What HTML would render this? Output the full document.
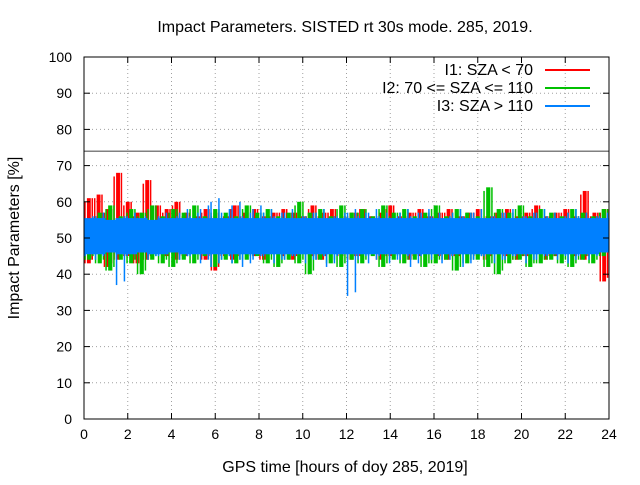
<!DOCTYPE html>
<html><head><meta charset="utf-8"><style>
body{margin:0;background:#fff}
svg text{font-family:"Liberation Sans",sans-serif;font-size:14px;fill:#000}
svg text.big{font-size:16px}
</style></head><body>
<svg id="c" width="640" height="480" viewBox="0 0 640 480"></svg>
<script>
const xTicks=[0,2,4,6,8,10,12,14,16,18,20,22,24];
const yTicks=[0,10,20,30,40,50,60,70,80,90,100];
const refLine=74;
const redVals=[61,43,62,46,58,42,68,44,60,45,57,43,66,44,59,46,58,45,60,44,57,45,56,46,58,44,57,41,56,45,59,44,57,46,58,45,56,44,57,46,58,45,57,44,56,46,59,45,57,44,58,46,56,45,57,44,58,45,56,46,57,44,59,45,56,46,57,44,58,45,56,46,57,45,58,44,56,45,57,46,58,45,56,44,57,46,58,45,56,44,57,45,59,46,56,44,57,45,58,46,56,45,63,44,57,46,58,38];
const greenVals=[55,44,57,43,59,41,56,44,58,43,57,40,59,44,56,43,58,42,57,44,59,43,56,45,58,42,57,44,56,43,59,44,57,45,58,43,56,42,57,44,60,43,57,40,58,44,56,43,59,42,57,44,58,43,56,45,59,42,57,44,58,43,56,44,57,42,59,43,56,44,58,41,57,43,56,44,64,42,58,40,57,43,59,44,56,42,58,43,57,44,56,43,58,42,57,44,56,43,58,45];
const blueVals=[56,45,57,44,55,46,56,37,57,45,56,46,55,44,57,45,56,46,58,44,57,45,59,43,61,42,58,44,60,43,57,42,59,44,58,45,57,43,58,44,56,45,57,43,58,44,56,42,57,45,58,34,57,44,58,43,57,45,56,43,58,44,57,42,58,45,57,44,56,43,58,45,57,42,58,44,56,45,57,43,58,44,56,45,57,43,58,44,57,45,56,44,58,43,57,45,56,44,57,46];
const legendLabels=["I1: SZA < 70","I2: 70 <= SZA <= 110","I3: SZA > 110"];
const colors=["#ff0000","#00c000","#0080ff"];
const NS="http://www.w3.org/2000/svg";
const svg=document.getElementById('c');
const L=84,R=609,T=57,B=419;
const X=v=>L+(v-0)/24*(R-L);
const Y=v=>B-(v-0)/100*(B-T);
function mk(t,a,txt){const e=document.createElementNS(NS,t);for(const k in a)e.setAttribute(k,a[k]);if(txt!=null)e.textContent=txt;svg.appendChild(e);return e;}
xTicks.forEach(v=>{if(v>0&&v<24){const g=mk('line',{x1:X(v),x2:X(v),y1:T,y2:B,stroke:'#a0a0a0','stroke-dasharray':'1,3'});

}});
yTicks.forEach(v=>{if(v>0&&v<100){const g=mk('line',{x1:L,x2:R,y1:Y(v),y2:Y(v),stroke:'#a0a0a0','stroke-dasharray':'1,3'});

}});
[redVals,greenVals,blueVals].forEach((arr,i)=>{
 const n=Math.floor(arr.length/2);
 const g=mk('g',{fill:colors[i],stroke:colors[i]});
 
 
 for(let k=0;k<n;k++){
  const hi=Math.max(arr[2*k],arr[2*k+1]),lo=Math.min(arr[2*k],arr[2*k+1]);
  const x0=X(k/n*24),x1=X((k+1)/n*24),bw=x1-x0;
  let rx,rw,rh,rl;
  if(i===2){rx=x0;rw=bw+0.5;rh=Math.min(hi,55.5);rl=Math.max(lo,45.5);}
  else{rx=x0+bw*0.3;rw=bw*0.4;rh=hi;rl=lo;}
  const r=document.createElementNS(NS,'rect');
  r.setAttribute('x',rx);r.setAttribute('width',rw);
  r.setAttribute('y',Y(rh));r.setAttribute('height',Y(rl)-Y(rh));
  r.setAttribute('stroke','none');
  
  
  g.appendChild(r);
  [0.1,0.85].forEach(f=>{
   const l=document.createElementNS(NS,'line');
   const xm=x0+bw*f;
   l.setAttribute('x1',xm);l.setAttribute('x2',xm);
   l.setAttribute('y1',Y(f<0.5?hi-1:hi));l.setAttribute('y2',Y(f<0.5?lo:lo+1));
   l.setAttribute('stroke-width',1.5);
   
   
   g.appendChild(l);
  });
 }
});
const rl=mk('line',{x1:L,x2:R,y1:Y(refLine),y2:Y(refLine),stroke:'#000','stroke-width':0.8});


const fr=mk('rect',{x:L,y:T,width:R-L,height:B-T,fill:'none',stroke:'#000'});


xTicks.forEach(v=>{
 mk('line',{x1:X(v),x2:X(v),y1:B,y2:B-6,stroke:'#000'});
 mk('line',{x1:X(v),x2:X(v),y1:T,y2:T+6,stroke:'#000'});
 const t=mk('text',{x:X(v),y:B+20,'text-anchor':'middle'},String(v));
 
 
});
yTicks.forEach(v=>{
 mk('line',{x1:L,x2:L+6,y1:Y(v),y2:Y(v),stroke:'#000'});
 mk('line',{x1:R,x2:R-6,y1:Y(v),y2:Y(v),stroke:'#000'});
 const t=mk('text',{x:L-12,y:Y(v)+5,'text-anchor':'end'},String(v));
 
 
});
legendLabels.forEach((s,i)=>{
 const y=70+i*18;
 const t=mk('text',{x:533,y:y+5,'text-anchor':'end',class:'big'},s);
 
 
 const l=mk('line',{x1:545,x2:590,y1:y,y2:y,stroke:colors[i],'stroke-width':2});
 
 
});
const ti=mk('text',{x:345,y:32,'text-anchor':'middle',class:'big'},'Impact Parameters. SISTED rt 30s mode. 285, 2019.');


const xl=mk('text',{x:345,y:472,'text-anchor':'middle',class:'big'},'GPS time [hours of doy 285, 2019]');


const yl=mk('text',{x:0,y:0,'text-anchor':'middle',class:'big',transform:'translate(19,238) rotate(-90)'},'Impact Parameters [%]');


</script>
</body></html>
